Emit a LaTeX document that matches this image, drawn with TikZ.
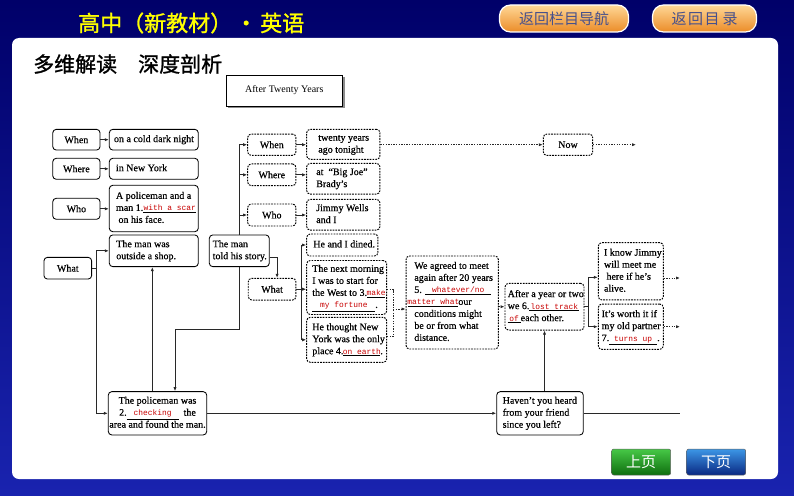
\documentclass[tikz,border=0pt]{standalone}
\usepackage{fontspec}
\setmainfont{Liberation Serif}
\newfontfamily\bodyf[FakeBold=0.45]{Liberation Serif}
\newfontfamily\cjk{Noto Sans CJK SC}
\newfontfamily\cjkb[FakeBold=1.2]{Noto Sans CJK SC}
\newfontfamily\blankfont{Liberation Mono}
\usetikzlibrary{arrows.meta}
\definecolor{fillred}{RGB}{200,0,0}
\definecolor{lncol}{RGB}{40,40,40}
\definecolor{bgTop}{RGB}{0,0,105}
\definecolor{bgBot}{RGB}{25,35,175}
\definecolor{btnT}{RGB}{255,215,150}
\definecolor{btnB}{RGB}{235,140,40}
\definecolor{btnTx}{RGB}{70,80,140}
\definecolor{gT}{RGB}{70,200,70}
\definecolor{gB}{RGB}{15,110,15}
\definecolor{bT}{RGB}{60,150,230}
\definecolor{bB}{RGB}{10,40,130}
\definecolor{ttlyellow}{RGB}{255,255,0}
\newcommand\bt[2]{\makebox[#1][l]{\begin{tabular}{@{}l@{}}#2\end{tabular}}}
\newcommand\blank[2]{\underline{\makebox[#1][c]{\textcolor{fillred}{\blankfont\fontsize{7.9}{8}\selectfont #2}}}}
\begin{document}
\begin{tikzpicture}[x=1pt,y=-1pt,
 sbox/.style={draw=black, line width=0.85pt, rounded corners=3.5pt, fill=white, inner sep=0pt, font=\bodyf\fontsize{10}{12}\selectfont},
 dbox/.style={sbox, line width=0.95pt, dash pattern=on 1.7pt off 1.1pt},
 sz/.style 2 args={minimum width=#1, minimum height=#2},
 arr/.style={draw=lncol, line width=0.8pt, -{Latex[length=4pt,width=3.2pt]}},
 ln/.style={draw=lncol, line width=0.8pt},
 darr/.style={arr, dash pattern=on 1.3pt off 1.3pt},
 dln/.style={ln, dash pattern=on 1.3pt off 1.3pt},
 topbtn/.style={draw=white, line width=1.2pt, rounded corners=11pt, top color=btnT, bottom color=btnB, font=\cjk\fontsize{15}{15}\selectfont, text=btnTx, inner sep=0pt},
 btm/.style={minimum width=59pt, minimum height=26pt, rounded corners=2pt, draw=black!60, line width=0.5pt, text=white, font=\cjk\fontsize{15}{15}\selectfont, inner sep=0pt}
 ]
\useasboundingbox (0,0) rectangle (794,495);
% background
\shade[top color=bgTop, bottom color=bgBot] (0,0) rectangle (794,495);
\fill[white, rounded corners=7pt] (12,38) rectangle (778,479);
% header
\node[anchor=west, inner sep=0pt, text=ttlyellow, font=\cjkb\fontsize{22}{22}\selectfont] (ttl) at (78,23) {高中（新教材）\kern3pt·\kern3pt英语};
\node[topbtn, sz={129pt}{27pt}] (bnav) at (564,18.5) {返回栏目导航};
\node[topbtn, sz={104pt}{27pt}] (bdir) at (704.5,18.5) {返\kern1.5pt回\kern1.5pt目\kern3pt录};
\node[anchor=west, inner sep=0pt, font=\cjkb\fontsize{21}{21}\selectfont] (sec) at (33,64) {多维解读　深度剖析};
% bottom buttons
\node[btm, top color=gT, bottom color=gB] (bprev) at (641.2,462) {上页};
\node[btm, top color=bT, bottom color=bB] (bnext) at (716.2,462) {下页};
% title box
\fill[black!45] (227.5,76.5) rectangle (344.5,108);
\node[draw=black, line width=0.8pt, fill=white, sz={116.7pt}{31pt}, font=\fontsize{10}{12}\selectfont] (tbox) at (284.3,90.5) {After Twenty Years};
% left column
\node[sbox, sz={47.3pt}{20.7pt}] (lWhen) at (76.4,139.7) {When};
\node[sbox, sz={89pt}{20.7pt}] (lT1) at (153.8,139.7) {\bt{79.6pt}{on a cold dark night}};
\node[sbox, sz={47.3pt}{21pt}] (lWhere) at (76.4,168.8) {Where};
\node[sbox, sz={89pt}{21pt}] (lT2) at (153.8,168.8) {\bt{75.6pt}{in New York}};
\node[sbox, sz={47.3pt}{21pt}] (lWho) at (76.4,208.8) {Who};
\node[sbox, sz={89pt}{46.4pt}] (lT3) at (153.8,208.5) {\bt{75.6pt}{A policeman and a\\ man 1.\blank{53pt}{with a scar}\\ \ on his face.}};
\node[sbox, sz={89pt}{31.7pt}] (shop) at (153.8,250.8) {\bt{75pt}{The man was\\ outside a shop.}};
\node[sbox, sz={47.7pt}{21.7pt}] (lWhat) at (67.8,268.2) {What};
\node[sbox, sz={98.4pt}{43.3pt}] (pol) at (157.5,413.3) {\begin{tabular}{@{}c@{}}The policeman was\\ 2.\blank{52pt}{checking}\hspace{5pt}the\\ area and found the man.\end{tabular}};
\node[sbox, sz={60pt}{31.7pt}] (story) at (239.3,250.8) {\bt{53.2pt}{The man\\ told his story.}};
% middle dashed
\node[dbox, sz={48.3pt}{21.3pt}] (dWhen) at (271.8,144.7) {When};
\node[dbox, sz={73.3pt}{30pt}] (dtwenty) at (343.3,144.3) {\bt{50pt}{twenty years\\ ago tonight}};
\node[dbox, sz={48.3pt}{21.7pt}] (dWhere) at (271.8,174.8) {Where};
\node[dbox, sz={73.3pt}{30.7pt}] (dbig) at (343.3,178.7) {\bt{54.1pt}{at\hspace{5pt}“Big Joe”\\ Brady’s}};
\node[dbox, sz={48.3pt}{22pt}] (dWho) at (271.8,215) {Who};
\node[dbox, sz={73.3pt}{30.7pt}] (djimmy) at (343.3,214.7) {\bt{54.1pt}{Jimmy Wells\\ and I}};
\node[dbox, sz={47.7pt}{21.7pt}] (dWhat) at (272.1,289.2) {What};
\node[dbox, sz={71.3pt}{22pt}] (dined) at (342.3,245) {\bt{57.9pt}{He and I dined.}};
\node[dbox, sz={80pt}{54pt}] (morning) at (346.7,287.5) {\bt{68.8pt}{The next morning\\ I was to start for\\ the West to 3.\blank{18pt}{make}\\ \blank{63pt}{my fortune}.}};
\node[dbox, sz={80pt}{45pt}] (thought) at (346.7,339.8) {\bt{68.8pt}{He thought New\\ York was the only\\ place 4.\blank{37pt}{on earth}.}};
\node[dbox, sz={92.3pt}{93pt}] (agreed) at (452.2,302.5) {\bt{75.7pt}{We agreed to meet\\ again after 20 years\\ 5. \blank{66pt}{whatever/no}\\ \hspace*{-6pt}\blank{50pt}{matter what}our\\ conditions might\\ be or from what\\ distance.}};
\node[dbox, sz={79pt}{46.7pt}] (after) at (544.5,306.7) {\bt{73.6pt}{After a year or two\\ we 6.\blank{50pt}{lost track}\\ \blank{13pt}{of}each other.}};
\node[dbox, sz={65pt}{57.3pt}] (iknow) at (630.8,271.3) {\bt{53.6pt}{I know Jimmy\\ will meet me\\ \ here if he’s\\ alive.}};
\node[dbox, sz={65pt}{45.3pt}] (worth) at (630.8,326.7) {\bt{58.2pt}{It’s worth it if\\ my old partner\\ 7.\blank{48pt}{turns up}.}};
\node[dbox, sz={49.4pt}{21.3pt}] (now) at (568,144.7) {Now};
\node[sbox, sz={86.6pt}{43.3pt}] (havent) at (540,413.3) {\bt{74.6pt}{Haven’t you heard\\ from your friend\\ since you left?}};
% free ends
\coordinate (sd) at (175,329.3);
\coordinate (bk) at (393,309);
\coordinate (e1) at (680,278);
\coordinate (e2) at (680,326.7);
\coordinate (e3) at (636,144.7);
\coordinate (e4) at (680,413.3);
% connectors left
\draw[arr] (lWhen.east) -- (lWhen.east -| lT1.west);
\draw[arr] (lWhere.east) -- (lWhere.east -| lT2.west);
\draw[arr] (lWho.east) -- (lWho.east -| lT3.west);
\draw[arr] (lWhat.east) -- ++(4,0) |- (shop.west);
\draw[arr] (lWhat.east) -- ++(4,0) |- (pol.west);
\draw[arr] ([xshift=-1.5pt]pol.north -| shop.south) -- ([xshift=-1.5pt]shop.south);
\draw[arr] (story.south) |- (sd) -- (sd |- pol.north);
\draw[arr] (story.north) |- (dWhen.west);
\draw[arr] (story.north) |- (dWhere.west);
\draw[arr] (story.north) |- (dWho.west);
\draw[arr] ([yshift=-7pt]story.east) -| ([xshift=5pt]dWhat.north);
% connectors middle
\draw[arr] (dWhen.east) -- (dWhen.east -| dtwenty.west);
\draw[arr] (dWhere.east) -- (dWhere.east -| dbig.west);
\draw[arr] (dWho.east) -- (dWho.east -| djimmy.west);
\draw[arr] (dWhat.east) -- ++(4.5,0) |- (dined.west);
\draw[arr] (dWhat.east) -- (dWhat.east -| morning.west);
\draw[arr] (dWhat.east) -- ++(4.5,0) |- (thought.west);
\draw[dln] ([yshift=-2pt]morning.east) -| (bk);
\draw[dln] ([yshift=3pt]thought.east) -| (bk);
\draw[darr] (bk) -- (bk -| agreed.west);
\draw[darr] (agreed.east |- after.west) -- (after.west);
\draw[arr] (after.east) -- ++(4,0) |- ([yshift=-6pt]iknow.west);
\draw[arr] (after.east) -- ++(4,0) |- (worth.west);
\draw[darr] (iknow.east |- e1) -- (e1);
\draw[darr] (worth.east |- e2) -- (e2);
\draw[darr] (dtwenty.east |- now.west) -- (now.west);
\draw[darr] (now.east) -- (e3);
\draw[arr] (pol.east) -- (havent.west);
\draw[ln] (havent.east) -- (e4);
\draw[arr] (after.south |- havent.north) -- (after.south);
\end{tikzpicture}
\end{document}
